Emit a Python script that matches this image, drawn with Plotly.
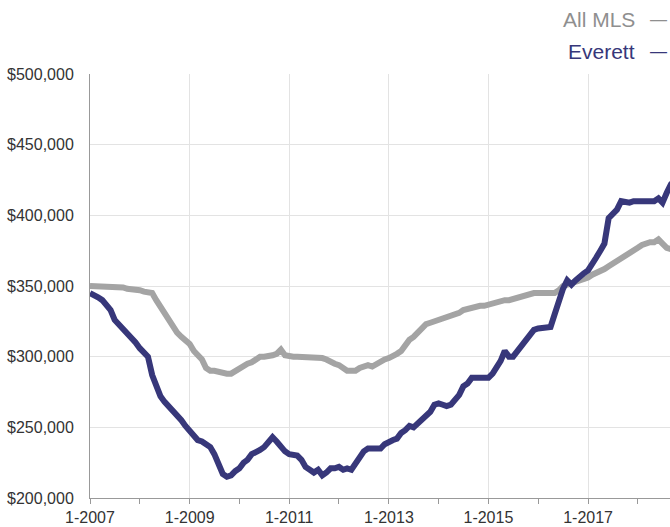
import pandas as pd
import plotly.graph_objects as go

start_month = "2007-01-01"

all_mls = [
    350, 350, 350, 350, 349, 349, 350, 350, 349, 348, 348, 348,   # 2007
    347, 346, 345, 345, 340, 335, 330, 325, 320, 317, 314, 311,   # 2008
    309, 304, 301, 298, 292, 290, 290, 289, 289, 288, 288, 290,   # 2009
    291, 293, 295, 296, 298, 300, 300, 300, 301, 302, 305, 301,   # 2010
    300, 300, 300, 300, 300, 300, 300, 300, 299, 298, 296, 295,   # 2011
    294, 292, 290, 290, 290, 292, 293, 294, 293, 295, 296, 298,   # 2012
    299, 300, 302, 304, 308, 312, 314, 317, 320, 323, 324, 325,   # 2013
    325, 326, 327, 329, 330, 331, 333, 334, 334, 335, 336, 336,   # 2014
    337, 338, 338, 339, 340, 340, 341, 342, 343, 344, 345, 345,   # 2015
    345, 345, 345, 345, 345, 347, 350, 351, 352, 352, 353, 355,   # 2016
    356, 358, 359, 360, 362, 364, 366, 368, 370, 372, 374, 376,   # 2017
    377, 379, 380, 381, 381, 383, 380, 377, 376, 376,             # 2018
]

everett = [
    345, 344, 342, 340, 337, 333, 326, 323, 320, 316, 314, 310,   # 2007
    306, 302, 300, 287, 280, 272, 268, 265, 262, 259, 255, 251,   # 2008
    248, 244, 241, 240, 238, 236, 231, 223, 217, 215, 216, 219,   # 2009
    221, 225, 227, 231, 232, 234, 236, 240, 243, 240, 236, 233,   # 2010
    231, 231, 230, 227, 222, 220, 218, 220, 216, 218, 221, 221,   # 2011
    222, 220, 221, 220, 224, 228, 233, 235, 235, 235, 235, 238,   # 2012
    240, 241, 242, 246, 248, 251, 250, 253, 256, 258, 261, 266,   # 2013
    267, 266, 265, 266, 269, 273, 279, 281, 285, 285, 285, 284,   # 2014
    285, 288, 292, 297, 304, 300, 300, 304, 307, 311, 315, 319,   # 2015
    320, 320, 320, 321, 330, 340, 348, 354, 351, 354, 357, 359,   # 2016
    361, 365, 370, 375, 380, 398, 401, 404, 410, 409, 409, 410,   # 2017
    410, 410, 410, 410, 410, 412, 409, 416, 422, 425,             # 2018
]

legend_names = ["All MLS", "Everett"]

months = pd.date_range(start_month, periods=len(all_mls), freq="MS")

gray = "#a4a4a4"
gray_text = "#8f8f8f"
navy = "#37377a"

fig = go.Figure()
fig.add_trace(go.Scatter(x=months, y=[v * 1000 for v in all_mls], mode="lines",
                         name=legend_names[0], line=dict(color=gray, width=6)))
fig.add_trace(go.Scatter(x=months, y=[v * 1000 for v in everett], mode="lines",
                         name=legend_names[1], line=dict(color=navy, width=6)))

font_family = "Liberation Sans, Arial, sans-serif"

annotations = []
for name, color, shift in [(legend_names[0], gray_text, 55), (legend_names[1], navy, 23)]:
    annotations.append(dict(text=name, xref="paper", yref="paper", x=1.0, y=1.0,
                            xanchor="right", yanchor="middle", xshift=-33, yshift=shift,
                            showarrow=False, font=dict(size=21, color=color, family=font_family)))
    annotations.append(dict(text="\u2014", xref="paper", yref="paper", x=1.0, y=1.0,
                            xanchor="right", yanchor="middle", xshift=-1, yshift=shift,
                            showarrow=False, font=dict(size=17, color=color, family=font_family)))

fig.update_layout(
    width=670, height=527,
    margin=dict(l=90, r=0, t=74, b=29),
    paper_bgcolor="white", plot_bgcolor="white",
    showlegend=False,
    font=dict(family=font_family, size=16, color="#333333"),
    xaxis=dict(
        type="date",
        range=["2007-01-01", "2018-08-25"],
        tick0="2007-01-01", dtick="M24", tickformat="%-m-%Y",
        ticks="outside", ticklen=5, tickcolor="#999999",
        showgrid=True, gridcolor="#e3e3e3", gridwidth=1,
        showline=True, linecolor="#999999", linewidth=1,
        minor=dict(dtick="M12", tick0="2007-01-01", ticks="outside", ticklen=5,
                   tickcolor="#999999", showgrid=False),
        zeroline=False, automargin=False,
        tickfont=dict(size=16, color="#333333"),
    ),
    yaxis=dict(
        range=[200000, 500000], dtick=50000,
        tickformat="$,.0f",
        showgrid=True, gridcolor="#e3e3e3", gridwidth=1,
        showline=True, linecolor="#999999", linewidth=1,
        ticks="", ticklabelstandoff=12,
        zeroline=False, automargin=False,
        tickfont=dict(size=16, color="#333333"),
    ),
    annotations=annotations,
)

fig.write_html("out.html")
